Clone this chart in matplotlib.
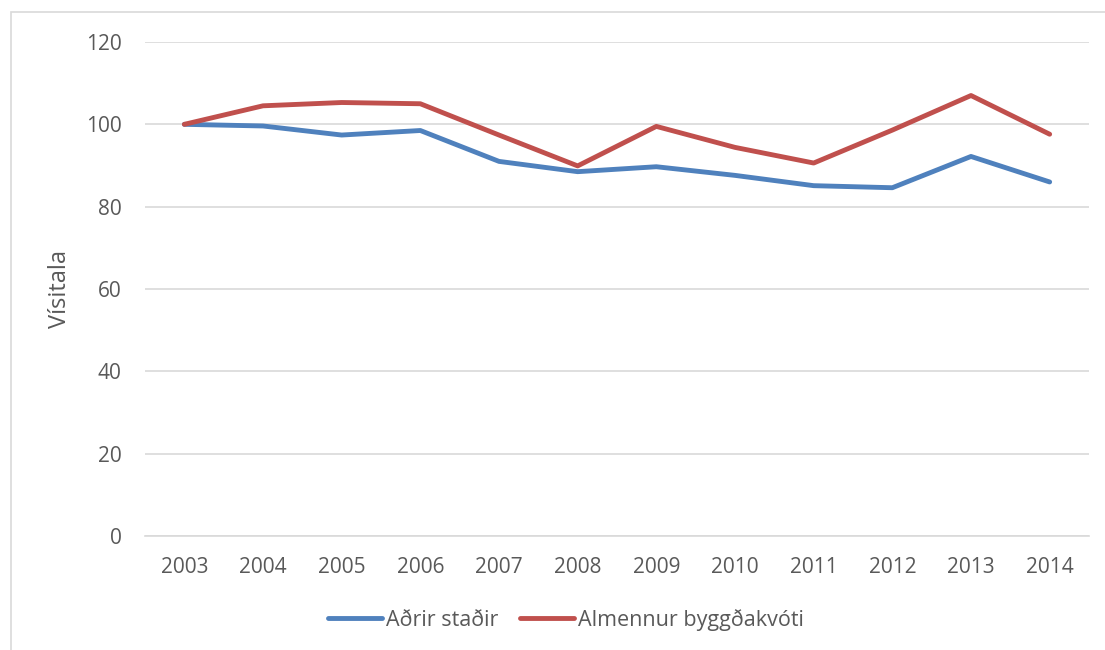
import matplotlib.pyplot as plt
from matplotlib.patches import Rectangle

# data
YEARS = ['2003', '2004', '2005', '2006', '2007', '2008',
         '2009', '2010', '2011', '2012', '2013', '2014']
ADRIR = [100.0, 99.6, 97.4, 98.5, 91.0, 88.5, 89.7, 87.6, 85.1, 84.6, 92.2, 86.0]
ALMENNUR = [100.0, 104.5, 105.3, 105.0, 97.4, 89.9, 99.5, 94.4, 90.6, 98.6, 107.0, 97.6]
NAMES = ['Aðrir staðir', 'Almennur byggðakvóti']
COLOURS = ['#4f81bd', '#c0504d']
YTICKS = [0, 20, 40, 60, 80, 100, 120]

GRID = '#d9d9d9'
TEXT = '#595959'
W, H = 1105, 650

plt.rcParams['font.family'] = ['Open Sans', 'DejaVu Sans']

fig = plt.figure(figsize=(W / 100, H / 100), dpi=100)

# outer chart border (runs off the right and bottom edges)
fig.patches.append(Rectangle((11 / W, -0.05), 1.2, 1 - 12 / H + 0.05,
                             transform=fig.transFigure, fill=False,
                             edgecolor=GRID, linewidth=1.2))

ax = fig.add_axes([145 / W, 1 - 536 / H, (1089 - 145) / W, (536 - 42) / H])

x = range(len(YEARS))
for vals, name, col in zip([ADRIR, ALMENNUR], NAMES, COLOURS):
    ax.plot(x, vals, color=col, linewidth=3.5, label=name,
            solid_capstyle='round', solid_joinstyle='round')

ax.set_xlim(-0.5, len(YEARS) - 0.5)
ax.set_ylim(0, 120)
ax.set_yticks(YTICKS)
ax.set_xticks(list(x))
ax.set_xticklabels(YEARS)
ax.grid(axis='y', color=GRID, linewidth=1.2)
ax.set_axisbelow(True)
for s in ['top', 'right', 'left']:
    ax.spines[s].set_visible(False)
ax.spines['bottom'].set_color(GRID)
ax.spines['bottom'].set_linewidth(1.2)
ax.tick_params(length=0, labelsize=15, colors=TEXT)
ax.tick_params(axis='y', pad=17)
ax.tick_params(axis='x', pad=15)
ax.set_ylabel('Vísitala', fontsize=17, color=TEXT, labelpad=10)

ax.legend(loc='center', bbox_to_anchor=(0.446, -0.17), ncol=2, frameon=False,
          fontsize=15.5, labelcolor=TEXT, handlelength=2.5, handletextpad=0.2,
          columnspacing=1.0)

plt.savefig('out.png', dpi=100)
